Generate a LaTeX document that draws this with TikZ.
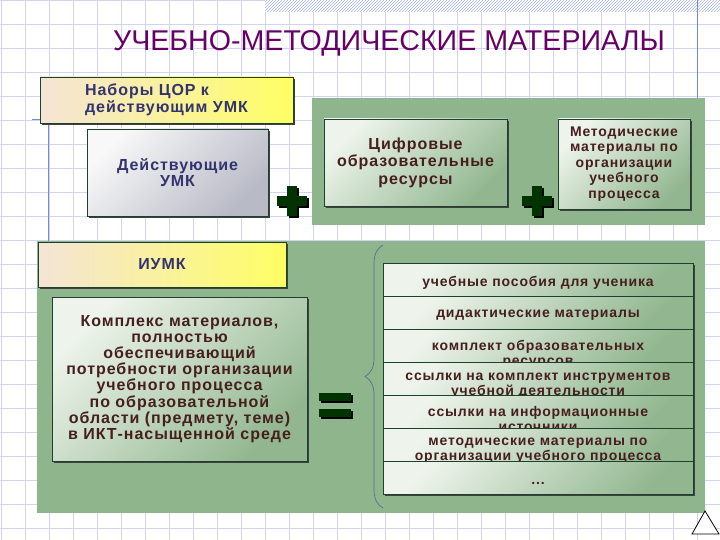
\documentclass[tikz,border=0pt]{standalone}
\usepackage{fontspec}
\setmainfont{Liberation Sans}
\newfontfamily\boxfont[LetterSpace=6]{Liberation Sans}
\usetikzlibrary{arrows.meta,shadows,patterns,decorations.pathreplacing}
\definecolor{gridblue}{RGB}{208,212,242}
\definecolor{linkblue}{RGB}{120,135,215}
\definecolor{hatchblue}{RGB}{170,182,222}
\definecolor{panelgreen}{RGB}{143,181,140}
\definecolor{boxedge}{RGB}{30,65,45}
\definecolor{navytext}{RGB}{51,51,110}
\definecolor{browntext}{RGB}{70,30,30}
\definecolor{titlepurple}{RGB}{102,0,102}
\definecolor{hdrleft}{RGB}{244,228,214}
\definecolor{hdrright}{RGB}{255,255,100}
\definecolor{greenlight}{RGB}{238,244,236}
\definecolor{greendark}{RGB}{146,183,144}
\definecolor{greylight}{RGB}{248,248,248}
\definecolor{greydark}{RGB}{184,186,198}
\definecolor{plusgreen}{RGB}{0,51,0}
\definecolor{braceblue}{RGB}{90,110,140}
\tikzset{>=Stealth,
  box/.style={draw=boxedge,line width=.9pt,inner sep=2pt,align=center,
    drop shadow={shadow xshift=2pt,shadow yshift=-2pt,fill=black!75,opacity=1}},
  hdrbox/.style={box,left color=hdrleft,right color=hdrright,text=navytext,
    font=\fontsize{16}{17}\boxfont\bfseries},
  greybox/.style={box,top color=greylight,bottom color=greydark,shading angle=45,text=navytext,
    font=\fontsize{16}{16}\boxfont\bfseries},
  greenbox/.style={box,top color=greenlight,bottom color=greendark,shading angle=45,text=browntext,
    font=\fontsize{16}{17.5}\boxfont\bfseries},
  lstbox/.style={greenbox,minimum width=310pt,minimum height=33pt},
  lsttext/.style={inner sep=0pt,align=center,text=browntext,font=\fontsize{14}{15}\boxfont\bfseries},
  gridline/.style={gridblue,line width=.8pt},
  deco/.style={linkblue,line width=.8pt},
  signfill/.style={fill=plusgreen}}

\begin{document}
\begin{tikzpicture}[x=1pt,y=-1pt]
\useasboundingbox (0,0) rectangle (720,540);
\fill[white] (0,0) rectangle (720,540);
% фон: клетка, штриховка сверху, линии слайда
\foreach \x in {1,25,...,721} \draw[gridline] (\x,0)--(\x,540);
\foreach \y in {0,24,...,540} \draw[gridline] (0,\y)--(720,\y);
\fill[white] (265,0) rectangle (720,12);
\fill[pattern=north east lines,pattern color=hatchblue] (265,0) rectangle (720,12);
\draw[deco] (697,0)--(697,99);
\draw[deco] (32,119)--(48,119)--(48,242);
\node[text=titlepurple,font=\fontsize{28.6}{30}\selectfont] (title) at (389,43) {УЧЕБНО-МЕТОДИЧЕСКИЕ МАТЕРИАЛЫ};

% верхняя часть
\fill[panelgreen] (312,98) rectangle (705,225);
\node[hdrbox,align=left,minimum width=253pt,minimum height=46pt] (cor) at (166.5,100) {Наборы ЦОР к\\действующим УМК};
\node[greybox,minimum width=181pt,minimum height=87pt] (umk) at (177.5,172.5) {Действующие\\УМК};
\node[greenbox,minimum width=183pt,minimum height=87pt] (dig) at (415.5,162.5) {Цифровые\\образовательные\\ресурсы};
\node[greenbox,font=\fontsize{14}{15.5}\boxfont\bfseries,minimum width=132pt,minimum height=90pt] (met) at (624,164)
  {Методические\\материалы по\\организации\\учебного\\процесса};
\foreach \cx/\cy in {292/201,537/201}{
\fill[black] (\cx-13,\cy-3) rectangle (\cx+17,\cy+7);
\fill[black] (\cx-3,\cy-13) rectangle (\cx+7,\cy+17);
\fill[signfill] (\cx-15,\cy-5) rectangle (\cx+15,\cy+5);
\fill[signfill] (\cx-5,\cy-15) rectangle (\cx+5,\cy+15);}

% нижняя часть
\fill[panelgreen] (37,241) rectangle (705,513);
\node[hdrbox,minimum width=248pt,minimum height=45pt] (iumk) at (162,264.5) {ИУМК};
\node[greenbox,font=\fontsize{16}{16.2}\boxfont\bfseries,minimum width=255pt,minimum height=164pt] (kompl) at (179.5,379)
  {Комплекс материалов,\\полностью\\обеспечивающий\\потребности организации\\учебного процесса\\по образовательной\\области (предмету, теме)\\в ИКТ-насыщенной среде};
\foreach \y in {393,409}{
\fill[black] (321,\y+2) rectangle (353,\y+10);
\fill[signfill] (319,\y) rectangle (351,\y+8);}
\draw[braceblue,line width=.7pt,decorate,decoration={brace,amplitude=18pt}] (383,508)--(383,245);
\foreach \txt/\dy [count=\i,evaluate=\i as \top using 230+33*\i] in
  {{учебные пособия для ученика}/13.5,{дидактические материалы}/13.5,
   {комплект образовательных\\ресурсов}/11,{ссылки на комплект инструментов\\учебной деятельности}/11,
   {ссылки на информационные\\источники}/11,{методические материалы по\\организации учебного процесса}/10,
   {...}/21}{
\node[lstbox,anchor=north] (lst\i) at (538,\top) {};
\node[lsttext,anchor=north] (txt\i) at ([yshift=-\dy pt]lst\i.north) {\txt};}
\draw[black,fill=white,line width=.8pt] (692,534)--(705,511)--(719,534)--cycle;
\end{tikzpicture}
\end{document}
